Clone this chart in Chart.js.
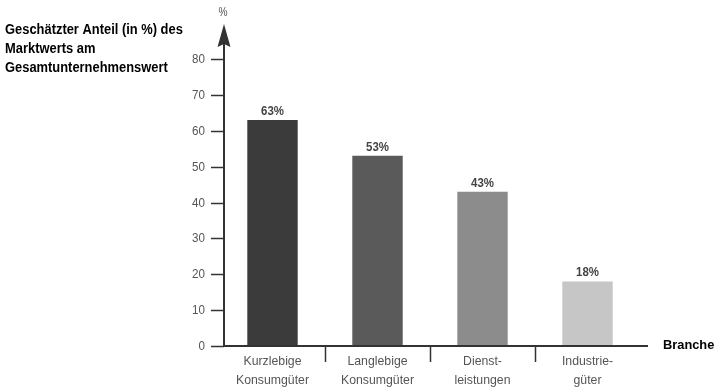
<!DOCTYPE html>
<html>
<head>
<meta charset="utf-8">
<script src="https://cdn.jsdelivr.net/npm/chart.js@4/dist/chart.umd.min.js"></script>
<style>
  html, body { margin: 0; padding: 0; background: #fff; }
  #wrap { width: 716px; height: 390px; position: relative; }
</style>
</head>
<body>
<div id="wrap"><canvas id="c" width="716" height="390"></canvas></div>
<script>
// Branchen und geschätzter Anteil des Marktwerts am Gesamtunternehmenswert
const categories = [
  ['Kurzlebige', 'Konsumgüter'],
  ['Langlebige', 'Konsumgüter'],
  ['Dienst-', 'leistungen'],
  ['Industrie-', 'güter']
];
const values = [63, 53, 43, 18];
const valueLabels = ['63%', '53%', '43%', '18%'];
const barColors = ['#3b3b3b', '#5a5a5a', '#8c8c8c', '#c6c6c6'];
const yTicks = [0, 10, 20, 30, 40, 50, 60, 70, 80];
const titleLines = ['Geschätzter Anteil (in %) des', 'Marktwerts am', 'Gesamtunternehmenswert'];
const yUnit = '%';
const xTitle = 'Branche';

const FAMILY = '"Liberation Sans", Arial, sans-serif';
const AXIS = '#333';
const LABEL = '#555';

// schmal laufender Text (horizontal gestaucht)
function narrowText(ctx, text, x, y, sx) {
  ctx.save();
  ctx.translate(x, y);
  ctx.scale(sx, 1);
  ctx.fillText(text, 0, 0);
  ctx.restore();
}

// Achsen mit Pfeil, Striche, Beschriftungen und Titeltexte
const decorations = {
  id: 'decorations',
  afterDraw(chart) {
    const ctx = chart.ctx;
    const area = chart.chartArea;
    const y = chart.scales.y;
    const x = chart.scales.x;
    const axisX = area.left + 4;
    const zeroY = y.getPixelForValue(0);
    const topY = y.getPixelForValue(80);

    ctx.save();
    ctx.strokeStyle = AXIS;
    ctx.fillStyle = AXIS;
    ctx.lineWidth = 2;

    // y-Achse mit Pfeilspitze
    ctx.beginPath();
    ctx.moveTo(axisX, zeroY);
    ctx.lineTo(axisX, topY - 16);
    ctx.stroke();
    ctx.beginPath();
    ctx.moveTo(axisX, topY - 35);
    ctx.lineTo(axisX - 6.5, topY - 12);
    ctx.lineTo(axisX, topY - 15);
    ctx.lineTo(axisX + 6.5, topY - 12);
    ctx.closePath();
    ctx.fill();

    // Teilstriche und Werte der y-Achse
    ctx.lineWidth = 1.5;
    ctx.font = '13.5px ' + FAMILY;
    ctx.textAlign = 'right';
    ctx.textBaseline = 'middle';
    yTicks.forEach(v => {
      const py = Math.round(y.getPixelForValue(v)) + 0.5;
      ctx.strokeStyle = AXIS;
      ctx.beginPath();
      ctx.moveTo(axisX - 13, py);
      ctx.lineTo(axisX, py);
      ctx.stroke();
      ctx.fillStyle = LABEL;
      narrowText(ctx, String(v), axisX - 19, py, 0.86);
    });

    // x-Achse
    ctx.strokeStyle = AXIS;
    ctx.lineWidth = 2;
    ctx.beginPath();
    ctx.moveTo(axisX - 1, zeroY);
    ctx.lineTo(area.right + 8, zeroY);
    ctx.stroke();

    // Trennstriche zwischen den Kategorien
    ctx.lineWidth = 1.5;
    for (let i = 0; i < categories.length - 1; i++) {
      const px = Math.round((x.getPixelForValue(i) + x.getPixelForValue(i + 1)) / 2) + 0.5;
      ctx.beginPath();
      ctx.moveTo(px, zeroY);
      ctx.lineTo(px, zeroY + 16);
      ctx.stroke();
    }

    // Kategorienbeschriftung
    ctx.fillStyle = LABEL;
    ctx.font = '13.5px ' + FAMILY;
    ctx.textAlign = 'center';
    categories.forEach((lines, i) => {
      const px = x.getPixelForValue(i);
      lines.forEach((t, j) => narrowText(ctx, t, px, zeroY + 15 + j * 19, 0.91));
    });

    // Wertbeschriftung über den Balken
    const meta = chart.getDatasetMeta(0);
    ctx.fillStyle = '#444';
    ctx.font = 'bold 13px ' + FAMILY;
    ctx.textBaseline = 'alphabetic';
    meta.data.forEach((bar, i) => {
      narrowText(ctx, valueLabels[i], bar.x, bar.y - 5, 0.88);
    });

    // Einheit an der Pfeilspitze
    ctx.fillStyle = LABEL;
    ctx.font = '12px ' + FAMILY;
    ctx.textBaseline = 'middle';
    narrowText(ctx, yUnit, axisX - 1, 13, 0.85);

    // Titel der y-Achse
    ctx.fillStyle = '#000';
    ctx.font = 'bold 14.5px ' + FAMILY;
    ctx.textAlign = 'left';
    ctx.textBaseline = 'alphabetic';
    titleLines.forEach((t, i) => narrowText(ctx, t, 5, 34 + i * 19, 0.89));

    // Titel der x-Achse
    ctx.font = 'bold 13.5px ' + FAMILY;
    ctx.textBaseline = 'middle';
    narrowText(ctx, xTitle, 663, zeroY - 1, 0.95);

    ctx.restore();
  }
};

new Chart(document.getElementById('c'), {
  type: 'bar',
  data: {
    labels: categories,
    datasets: [{
      data: values,
      backgroundColor: barColors,
      borderWidth: 0,
      barPercentage: 0.48,
      categoryPercentage: 1
    }]
  },
  options: {
    responsive: false,
    animation: false,
    devicePixelRatio: 1,
    layout: { padding: { top: 59, right: 76, bottom: 0, left: 0 } },
    plugins: { legend: { display: false }, tooltip: { enabled: false } },
    scales: {
      x: {
        grid: { display: false },
        border: { display: false },
        ticks: { display: false },
        afterFit(scale) { scale.height = 44; }
      },
      y: {
        min: 0,
        max: 80,
        grid: { display: false },
        border: { display: false },
        afterBuildTicks(scale) { scale.ticks = yTicks.map(v => ({ value: v })); },
        ticks: { display: false },
        afterFit(scale) { scale.width = 220; }
      }
    }
  },
  plugins: [decorations]
});
</script>
</body>
</html>
